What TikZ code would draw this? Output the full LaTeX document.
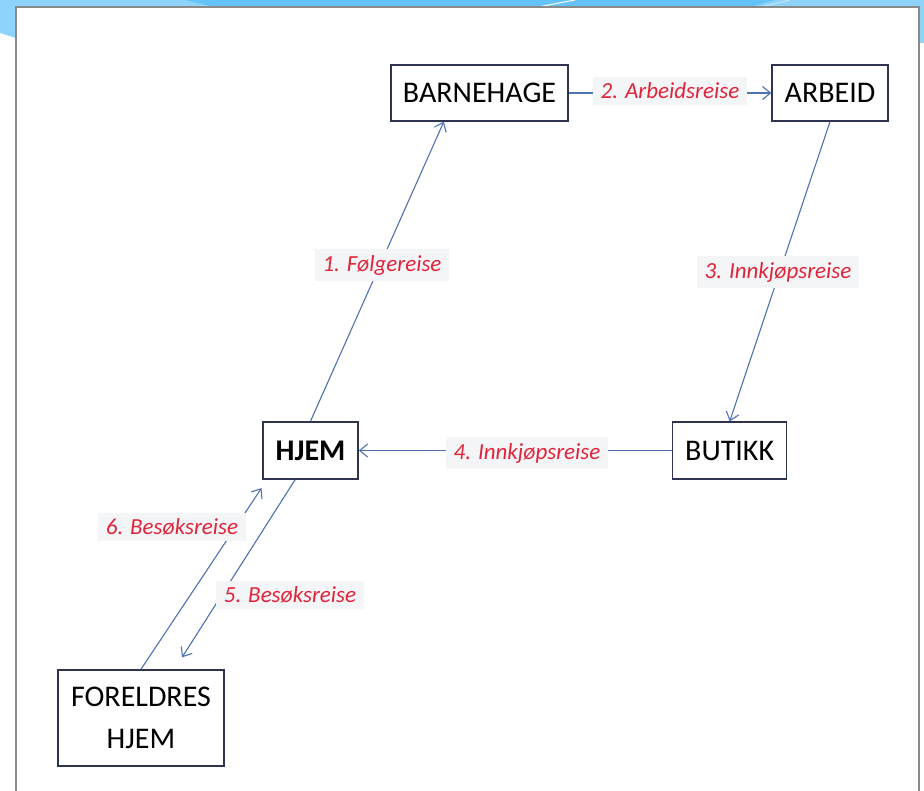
\documentclass[tikz,border=0pt]{standalone}
\usepackage{fontspec}
\setmainfont{Carlito}
\usetikzlibrary{arrows.meta,calc}
\definecolor{bglight}{HTML}{8ED3F9}
\definecolor{bgdark}{HTML}{63C3F6}
\definecolor{framegray}{HTML}{8A8A8A}
\definecolor{boxline}{HTML}{2E3350}
\definecolor{arrowblue}{HTML}{4F72B0}
\definecolor{labred}{HTML}{E0243A}
\definecolor{halo}{HTML}{F4F5F6}
\tikzset{
  place/.style={draw=boxline, line width=1.3pt, fill=white, text=black,
    font=\fontsize{30}{42}\selectfont, inner sep=0pt, align=center},
  trip/.style={draw=arrowblue, line width=1.1pt,
    -{Straight Barb[length=8pt,width=13pt,line width=1.1pt]}},
  triplabel/.style={font=\fontsize{23}{28}\selectfont\itshape, text=labred,
    fill=halo, inner xsep=8pt, inner ysep=6pt},
}
\begin{document}
\begin{tikzpicture}[x=1pt,y=-1pt]
\useasboundingbox (0,0) rectangle (924,791);
% slide background
\fill[white] (0,0) rectangle (924,791);
\fill[bglight] (0,0) -- (924,0) -- (924,43) -- (900,43) -- (900,7) -- (40,7) -- (16,38) -- (0,33) -- cycle;
\fill[bgdark] (185,0) -- (775,0) -- (750,7) -- (215,7) -- cycle;
\draw[white, line width=1pt] (538,7) -- (575,0);
\draw[white!60!bgdark, line width=1pt] (760,7) -- (790,0);
% slide frame
\draw[framegray, line width=1.5pt, fill=white] (16,7) rectangle (919,800);

% places
\node[place, minimum width=177pt, minimum height=56pt] (barn) at (479.5,93) {BARNEHAGE};
\node[place, minimum width=116pt, minimum height=56pt] (arb) at (830,93) {ARBEID};
\node[place, minimum width=95pt, minimum height=57pt, line width=1.6pt, font=\fontsize{30}{42}\selectfont\bfseries] (hjem) at (310.5,450.5) {HJEM};
\node[place, minimum width=114pt, minimum height=57pt] (but) at (729.7,450.5) {BUTIKK};
\node[place, minimum width=166pt, minimum height=96pt, line width=1.6pt] (for) at (141,718) {FORELDRES\\HJEM};

% trips
\draw[trip] (hjem.north) -- ($(barn.south west)!0.3!(barn.south east)$);
\draw[trip] (barn.east) -- (arb.west);
\draw[trip] (arb.south) -- (but.north);
\draw[trip] (but.west) -- (hjem.east);
\draw[trip, shorten >=14pt] ($(hjem.south west)!0.34!(hjem.south east)$) -- ($(for.north west)!0.70!(for.north east)$);
\draw[trip, shorten >=10pt] (for.north) -- ($(hjem.south west)!0.05!(hjem.south east)$);

% labels
\node[triplabel] (l1) at (382,265) {1. Følgereise};
\node[triplabel] (l2) at (670,91) {2. Arbeidsreise};
\node[triplabel] (l3) at (778,272) {3. Innkjøpsreise};
\node[triplabel] (l4) at (527,453) {4. Innkjøpsreise};
\node[triplabel] (l5) at (290,595) {5. Besøksreise};
\node[triplabel] (l6) at (172,527) {6. Besøksreise};
\end{tikzpicture}
\end{document}
